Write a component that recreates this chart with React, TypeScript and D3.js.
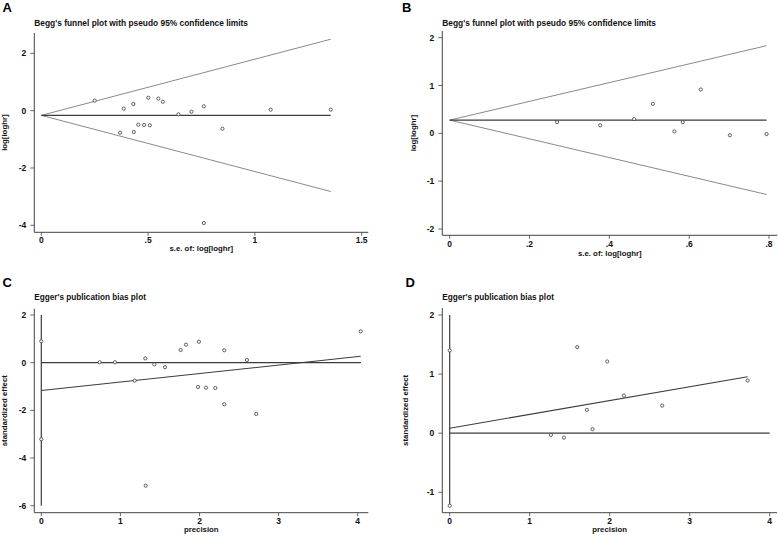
import React from "react";
import * as d3 from "d3";

// ---------- DATA ----------
// Panel A: Begg's funnel plot (s.e. vs log[loghr])
const seA = [0.25, 0.386, 0.431, 0.501, 0.548, 0.569, 0.642, 0.703, 0.761, 1.074, 1.355, 0.848, 0.454, 0.481, 0.508, 0.369, 0.433, 0.761];
const effA = [0.35, 0.07, 0.23, 0.45, 0.42, 0.31, -0.13, -0.035, 0.15, 0.035, 0.035, -0.63, -0.49, -0.5, -0.51, -0.77, -0.745, -3.92];
const pooledA = -0.165;
const xTicksA = [0, 0.5, 1, 1.5];
const xTickLabelsA = ["0", ".5", "1", "1.5"];
const yTicksA = [-4, -2, 0, 2];

// Panel B: Begg's funnel plot
const seB = [0.269, 0.377, 0.462, 0.509, 0.563, 0.584, 0.629, 0.702, 0.794];
const effB = [0.235, 0.167, 0.298, 0.617, 0.04, 0.235, 0.917, -0.04, -0.015];
const pooledB = 0.277;
const xTicksB = [0, 0.2, 0.4, 0.6, 0.8];
const xTickLabelsB = ["0", ".2", ".4", ".6", ".8"];
const yTicksB = [-2, -1, 0, 1, 2];

// Panel C: Egger's plot (precision vs standardized effect)
const precC = [0.738, 0.932, 1.315, 1.429, 1.564, 1.181, 1.762, 1.829, 1.993, 2.313, 2.6, 4.038, 1.981, 2.082, 2.2, 2.313, 2.718, 1.32];
const stdC = [0.017, 0.017, 0.18, -0.07, -0.19, -0.755, 0.53, 0.755, 0.88, 0.52, 0.113, 1.316, -1.02, -1.05, -1.06, -1.745, -2.15, -5.16];
const ciC = [-3.21, 0.9];
const vlineC = [-6, 2];
const regC = [-1.17, 0.27]; // value at precision 0 and at max precision
const zeroEndC = 4.04;
const xTicksC = [0, 1, 2, 3, 4];
const yTicksC = [-6, -4, -2, 0, 2];

// Panel D: Egger's plot
const precD = [1.594, 1.969, 2.178, 2.656, 3.724, 1.715, 1.786, 1.265, 1.428];
const stdD = [1.458, 1.214, 0.637, 0.468, 0.892, 0.395, 0.068, -0.029, -0.075];
const ciD = [-1.227, 1.4];
const vlineD = [-1.227, 2];
const regD = [0.085, 0.954];
const zeroEndD = 4.0;
const xTicksD = [0, 1, 2, 3, 4];
const yTicksD = [-1, 0, 1, 2];

const FONT = "'Liberation Sans', Arial, Helvetica, sans-serif";
const TXT = "#111";
const AXIS = "#444";

type Layout = {
  letter: string; letterX: number; letterY: number;
  title: string; titleX: number; titleY: number; titleSize: number;
  xRange: [number, number]; xDomain: [number, number];
  yRange: [number, number]; yDomain: [number, number];
  axisLeft: number; axisRight: number; axisTop: number; axisBottom: number;
  xLabel: string; xLabelY: number; tickDy: number;
  yLabel: string; yLabelX: number;
  xTicks: number[]; xTickLabels: string[]; yTicks: number[];
};

function Frame({ L, children }: { L: Layout; children: (x: any, y: any) => React.ReactNode }) {
  const x = d3.scaleLinear().domain(L.xDomain).range(L.xRange);
  const y = d3.scaleLinear().domain(L.yDomain).range(L.yRange);
  const yMid = (L.axisTop + L.axisBottom) / 2;
  return (
    <g>
      <text x={L.letterX} y={L.letterY} fontFamily={FONT} fontWeight="bold" fontSize={13} fill="#000">{L.letter}</text>
      <text x={L.titleX} y={L.titleY} fontFamily={FONT} fontWeight="bold" fontSize={L.titleSize} fill={TXT}>{L.title}</text>
      {/* axes */}
      <line x1={L.axisLeft} x2={L.axisRight} y1={L.axisBottom} y2={L.axisBottom} stroke={AXIS} strokeWidth={1} />
      <line x1={L.axisLeft} x2={L.axisLeft} y1={L.axisTop} y2={L.axisBottom} stroke={AXIS} strokeWidth={1} />
      {L.yTicks.map((t) => (
        <g key={"y" + t}>
          <line x1={L.axisLeft - 4} x2={L.axisLeft} y1={y(t)} y2={y(t)} stroke={AXIS} strokeWidth={0.8} />
          <text x={L.axisLeft - 8} y={y(t)} dy="0.35em" textAnchor="end" fontFamily={FONT} fontWeight="bold" fontSize={8.5} fill={TXT}>{String(t)}</text>
        </g>
      ))}
      {L.xTicks.map((t, i) => (
        <g key={"x" + t}>
          <line x1={x(t)} x2={x(t)} y1={L.axisBottom} y2={L.axisBottom + 3.5} stroke={AXIS} strokeWidth={0.8} />
          <text x={x(t)} y={L.axisBottom + L.tickDy} textAnchor="middle" fontFamily={FONT} fontWeight="bold" fontSize={8.5} fill={TXT}>{L.xTickLabels[i]}</text>
        </g>
      ))}
      <text x={(L.axisLeft + L.axisRight) / 2} y={L.xLabelY} textAnchor="middle" fontFamily={FONT} fontWeight="bold" fontSize={7.8} fill={TXT}>{L.xLabel}</text>
      <text transform={`translate(${L.yLabelX},${yMid}) rotate(-90)`} textAnchor="middle" dy="0.35em" fontFamily={FONT} fontWeight="bold" fontSize={7.8} fill={TXT}>{L.yLabel}</text>
      {children(x, y)}
    </g>
  );
}

function Markers({ xs, ys, x, y }: { xs: number[]; ys: number[]; x: any; y: any }) {
  return (
    <g>
      {xs.map((v, i) => (
        <circle key={i} cx={x(v)} cy={y(ys[i])} r={1.6} fill="white" stroke="#3a3a3a" strokeWidth={0.8} />
      ))}
    </g>
  );
}

function Funnel({ L, se, eff, pooled }: { L: Layout; se: number[]; eff: number[]; pooled: number }) {
  const maxSe = d3.max(se) as number;
  const line = d3.line<[number, number]>();
  return (
    <Frame L={L}>
      {(x, y) => {
        const up: [number, number][] = [[x(0), y(pooled)], [x(maxSe), y(pooled + 1.96 * maxSe)]];
        const lo: [number, number][] = [[x(0), y(pooled)], [x(maxSe), y(pooled - 1.96 * maxSe)]];
        const mid: [number, number][] = [[x(0), y(pooled)], [x(maxSe), y(pooled)]];
        return (
          <g>
            <path d={line(up) as string} stroke="#8a8a8a" strokeWidth={1} fill="none" />
            <path d={line(lo) as string} stroke="#8a8a8a" strokeWidth={1} fill="none" />
            <path d={line(mid) as string} stroke="#3c3c3c" strokeWidth={1.2} fill="none" />
            <Markers xs={se} ys={eff} x={x} y={y} />
          </g>
        );
      }}
    </Frame>
  );
}

function Egger({ L, prec, std, ci, vline, reg, zeroEnd }: { L: Layout; prec: number[]; std: number[]; ci: number[]; vline: number[]; reg: number[]; zeroEnd: number }) {
  const maxP = d3.max(prec) as number;
  const line = d3.line<[number, number]>();
  return (
    <Frame L={L}>
      {(x, y) => (
        <g>
          <path d={line([[x(0), y(vline[0])], [x(0), y(vline[1])]]) as string} stroke="#3c3c3c" strokeWidth={1.2} fill="none" />
          <path d={line([[x(0), y(0)], [x(zeroEnd), y(0)]]) as string} stroke="#3c3c3c" strokeWidth={1.2} fill="none" />
          <path d={line([[x(0), y(reg[0])], [x(maxP), y(reg[1])]]) as string} stroke="#3c3c3c" strokeWidth={1.1} fill="none" />
          <Markers xs={[0, 0]} ys={ci} x={x} y={y} />
          <Markers xs={prec} ys={std} x={x} y={y} />
        </g>
      )}
    </Frame>
  );
}

const LA: Layout = {
  letter: "A", letterX: 2.5, letterY: 12, title: "Begg's funnel plot with pseudo 95% confidence limits", titleX: 34.3, titleY: 25.7, titleSize: 8.4,
  xDomain: [0, 1.5], xRange: [41.3, 361.7], yDomain: [-4, 2], yRange: [225.3, 53.3],
  axisLeft: 34.3, axisRight: 368.3, axisTop: 33, axisBottom: 232.3,
  xLabel: "s.e. of: log[loghr]", xLabelY: 251, tickDy: 11, yLabel: "log[loghr]", yLabelX: 4.5,
  xTicks: xTicksA, xTickLabels: xTickLabelsA, yTicks: yTicksA,
};
const LB: Layout = {
  letter: "B", letterX: 402, letterY: 12, title: "Begg's funnel plot with pseudo 95% confidence limits", titleX: 442.3, titleY: 25.7, titleSize: 8.4,
  xDomain: [0, 0.8], xRange: [449.7, 769], yDomain: [-2, 2], yRange: [229, 37.7],
  axisLeft: 442.3, axisRight: 777.3, axisTop: 31, axisBottom: 235.3,
  xLabel: "s.e. of: log[loghr]", xLabelY: 255.5, tickDy: 11.5, yLabel: "log[loghr]", yLabelX: 413,
  xTicks: xTicksB, xTickLabels: xTickLabelsB, yTicks: yTicksB,
};
const LC: Layout = {
  letter: "C", letterX: 2.5, letterY: 286.5, title: "Egger's publication bias plot", titleX: 34.3, titleY: 299.7, titleSize: 8.2,
  xDomain: [0, 4], xRange: [41.3, 357.7], yDomain: [-6, 2], yRange: [505.7, 315],
  axisLeft: 34.3, axisRight: 368.3, axisTop: 308.7, axisBottom: 512.7,
  xLabel: "precision", xLabelY: 532, tickDy: 11, yLabel: "standardized effect", yLabelX: 4.5,
  xTicks: xTicksC, xTickLabels: xTicksC.map(String), yTicks: yTicksC,
};
const LD: Layout = {
  letter: "D", letterX: 405.5, letterY: 286.5, title: "Egger's publication bias plot", titleX: 442.3, titleY: 299.7, titleSize: 8.2,
  xDomain: [0, 4], xRange: [449.7, 769.7], yDomain: [-1, 2], yRange: [492.3, 315],
  axisLeft: 442.3, axisRight: 777, axisTop: 308, axisBottom: 512.7,
  xLabel: "precision", xLabelY: 532, tickDy: 11, yLabel: "standardized effect", yLabelX: 405,
  xTicks: xTicksD, xTickLabels: xTicksD.map(String), yTicks: yTicksD,
};

export default function App() {
  return (
    <svg width={778} height={536} viewBox="0 0 778 536" style={{ position: "absolute", left: 0, top: 0, background: "#fff" }}>
      <rect x={0} y={0} width={778} height={536} fill="#fff" />
      <Funnel L={LA} se={seA} eff={effA} pooled={pooledA} />
      <Funnel L={LB} se={seB} eff={effB} pooled={pooledB} />
      <Egger L={LC} prec={precC} std={stdC} ci={ciC} vline={vlineC} reg={regC} zeroEnd={zeroEndC} />
      <Egger L={LD} prec={precD} std={stdD} ci={ciD} vline={vlineD} reg={regD} zeroEnd={zeroEndD} />
    </svg>
  );
}
